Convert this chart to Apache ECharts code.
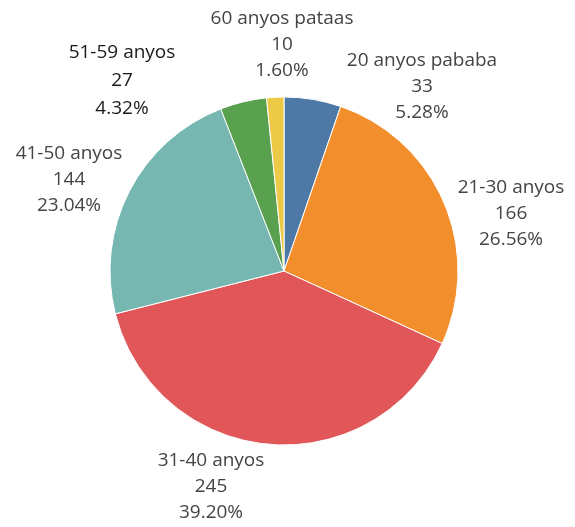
<!DOCTYPE html>
<html>
<head>
<meta charset="utf-8">
<script src="https://cdn.jsdelivr.net/npm/echarts@6/dist/echarts.min.js"></script>
<style>
  html, body { margin: 0; padding: 0; background: #fff; }
  #chart { width: 575px; height: 527px; }
</style>
</head>
<body>
<div id="chart"></div>
<script>
// age groups, clockwise from 12 o'clock
const categories = ['20 anyos pababa', '21-30 anyos', '31-40 anyos', '41-50 anyos', '51-59 anyos', '60 anyos pataas']
const counts = [33, 166, 245, 144, 27, 10]
const percents = ['5.28%', '26.56%', '39.20%', '23.04%', '4.32%', '1.60%']

const colors = ['#4e79a7', '#f28e2b', '#e15759', '#76b7b2', '#59a14f', '#edc948']
// label centres (middle line) in px
const labelPos = [[422, 87], [511, 214], [211, 487], [69, 180], [122, 81], [282, 45]]

const chart = echarts.init(document.getElementById('chart'))

const option = {
    animation: false,
    color: colors,
    series: [
        {
            type: 'pie',
            center: [284, 271],
            radius: 174,
            startAngle: 90,
            clockwise: true,
            itemStyle: {
                borderColor: '#fff',
                borderWidth: 1
            },
            label: {
                show: true,
                position: 'outside',
                fontFamily: 'Open Sans',
                fontSize: 19,
                lineHeight: 26,
                color: '#444',
                align: 'center',
                overflow: 'none',
                width: 220,
                formatter: (p) => p.name + '\n' + p.value + '\n' + percents[p.dataIndex]
            },
            labelLine: { show: false },
            labelLayout: (params) => ({
                x: labelPos[params.dataIndex][0],
                y: labelPos[params.dataIndex][1],
                align: 'center',
                verticalAlign: 'middle'
            }),
            data: categories.map((c, i) => ({
                name: c,
                value: counts[i],
                // this one is a bit darker in the original
                label: i === 4 ? { color: '#1a1a1a', lineHeight: 28 } : undefined
            }))
        }
    ]
}

chart.setOption(option)
</script>
</body>
</html>
